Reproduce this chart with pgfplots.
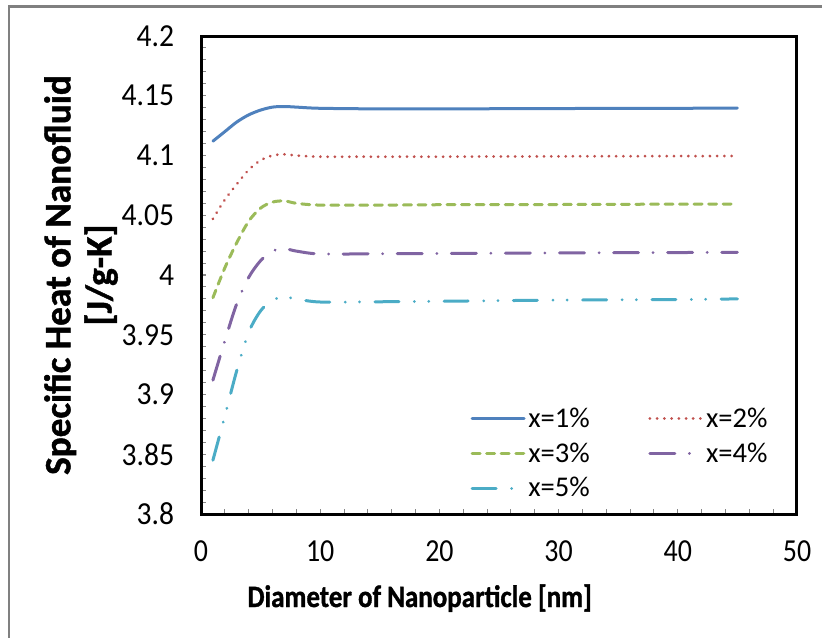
\documentclass[border=0pt]{standalone}
\usepackage{pgfplots}
\pgfplotsset{compat=1.18}
\usepackage{fontspec}
\setmainfont{Carlito}[BoldFeatures={FakeBold=1.2}]
\usepackage{graphicx}

\definecolor{s1}{HTML}{4F81BD}
\definecolor{s2}{HTML}{C0504D}
\definecolor{s3}{HTML}{9BBB59}
\definecolor{s4}{HTML}{8064A2}
\definecolor{s5}{HTML}{4BACC6}
\definecolor{tickgray}{HTML}{868686}
\definecolor{framegray}{HTML}{808080}

\begin{document}
\begin{tikzpicture}
\useasboundingbox (0,0) rectangle (616.5bp,478.5bp);
\draw[overlay, framegray, line width=1.9bp] (6.75bp,-20bp) -- (6.75bp,473.6bp) -- (640bp,473.6bp);
\begin{axis}[
  at={(150.75bp,93bp)}, anchor=south west,
  scale only axis, width=447bp, height=358.5bp,
  xmin=0, xmax=50, ymin=3.8, ymax=4.2,
  xtick={0,10,20,30,40,50},
  ytick={3.8,3.85,3.9,3.95,4,4.05,4.1,4.15,4.2},
  minor x tick num=4, minor y tick num=4,
  xtick pos=left, ytick pos=left,
  tick align=inside,
  major tick length=4bp, minor tick length=4bp,
  tick style={tickgray, line width=0.8bp},
  axis line style={black, line width=2.25bp},
  /pgf/number format/assume math mode=true,
  /pgf/number format/fixed,
  /pgf/number format/precision=2,
  xticklabel={\scalebox{1}[1.15]{\pgfmathprintnumber{\tick}}},
  yticklabel={\scalebox{1.06}[1.15]{\pgfmathprintnumber{\tick}}},
  ticklabel style={font=\fontsize{21}{24}\selectfont},
  yticklabel style={anchor=east, inner sep=0pt, xshift=-20bp},
  xticklabel style={anchor=north, inner sep=0pt, yshift=-19.5bp},
  xlabel={\scalebox{1}[1.15]{Diameter of Nanoparticle [nm]}},
  xlabel style={font=\bfseries\fontsize{20.3}{24}\selectfont,
    at={(axis description cs:0.367,0)}, anchor=base, yshift=-69.75bp},
  ylabel={Specific Heat of Nanofluid\\{}[J/g-K]},
  ylabel style={font=\bfseries\fontsize{28}{31}\selectfont, align=center,
    at={(axis description cs:0,0.5)}, anchor=center, yshift=90bp},
  legend columns=2,
  legend cell align=left,
  legend style={draw=none, fill=none, inner sep=0pt,
    at={(axis description cs:0.452,0.228)}, anchor=north west,
    font=\fontsize{21.5}{24}\selectfont,
    row sep=6bp,
    /tikz/every even column/.append style={column sep=42bp}},
  legend image code/.code={\draw[#1] (0bp,0bp) -- (39bp,0bp);},
  every axis plot/.append style={line width=2.25bp, line cap=round, smooth, tension=0.5},
]
% 1 %
\addplot[s1] coordinates {
 (1,4.112) (2,4.120) (3,4.128) (4,4.134) (5,4.138) (6,4.1405) (7,4.141)
 (8,4.1405) (10,4.1395) (15,4.139) (20,4.139) (30,4.1393) (40,4.1395) (45,4.1397)};
\addlegendentry{x=1\%}
% 2 %
\addplot[s2, dash pattern=on 0.01bp off 5.4bp] coordinates {
 (1,4.047) (2,4.063) (3,4.076) (4,4.088) (5,4.096) (6,4.100) (7,4.101)
 (8,4.100) (10,4.099) (15,4.099) (20,4.099) (30,4.0993) (40,4.0995) (45,4.0996)};
\addlegendentry{x=2\%}
% 3 %
\addplot[s3, dash pattern=on 6bp off 4.9bp] coordinates {
 (1,3.981) (2,4.006) (3,4.027) (4,4.045) (5,4.056) (6,4.061) (7,4.062)
 (8,4.060) (10,4.0585) (15,4.0585) (20,4.0588) (30,4.059) (40,4.0593) (45,4.0594)};
\addlegendentry{x=3\%}
% 4 %
\addplot[s4, dash pattern=on 18.75bp off 10.9bp on 0.01bp off 10.9bp] coordinates {
 (1,3.912) (2,3.945) (3,3.976) (4,3.998) (5,4.012) (6,4.020) (7,4.022)
 (8,4.020) (10,4.0176) (15,4.0178) (20,4.018) (30,4.0185) (40,4.0188) (45,4.019)};
\addlegendentry{x=4\%}
% 5 %
\addplot[s5, dash pattern=on 18bp off 11.6bp on 0.01bp off 10.7bp on 0.01bp off 11.6bp] coordinates {
 (1,3.845) (2,3.882) (3,3.920) (4,3.952) (5,3.970) (6,3.979) (7,3.9815)
 (8,3.980) (10,3.9774) (15,3.9776) (20,3.978) (30,3.979) (40,3.9795) (45,3.980)};
\addlegendentry{x=5\%}
\end{axis}
\end{tikzpicture}
\end{document}
